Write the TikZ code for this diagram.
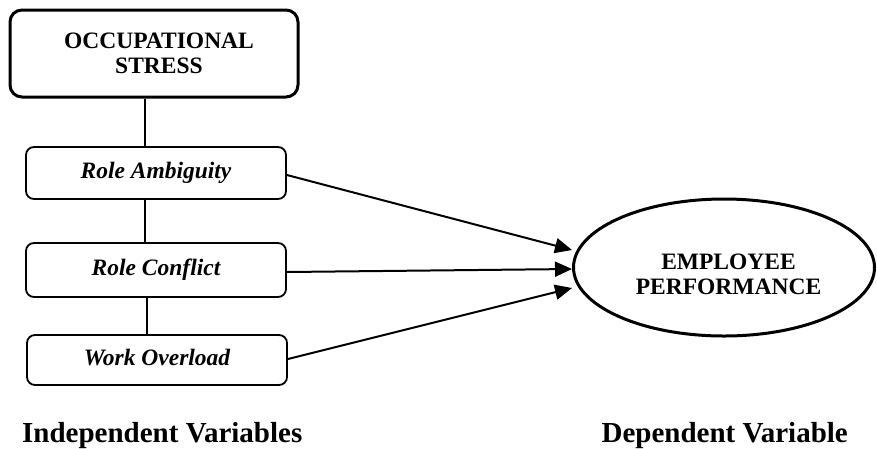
\documentclass[tikz,border=0pt]{standalone}
\usepackage{fontspec}
\setmainfont{Liberation Serif}
\usetikzlibrary{shapes.geometric,arrows.meta,calc}
\begin{document}
\begin{tikzpicture}[x=1pt,y=-1pt,
  boxtext/.style={font=\fontsize{23.5}{25}\selectfont\bfseries},
  mainbox/.style={draw,line width=3pt,rounded corners=12pt,inner sep=0pt},
  varbox/.style={draw,line width=1.8pt,rounded corners=8pt,inner sep=0pt,minimum width=260pt,boxtext,text height=1.3em,text depth=0.19em},
  link/.style={line width=1.4pt},
  arr/.style={line width=2pt,-{Triangle[length=17pt,width=15pt]}},
  label/.style={font=\fontsize{29}{34}\selectfont\bfseries,inner sep=0pt}]
\useasboundingbox (0,0) rectangle (877,448);
\node[mainbox,minimum width=288pt,minimum height=87pt] (os) at (154,53.5) {};
\node[boxtext,align=center,inner sep=0pt] (ost) at (159,53) {OCCUPATIONAL\\STRESS};
\node[varbox,minimum height=52pt] (ra) at (156,173) {\itshape Role Ambiguity};
\node[varbox,minimum height=54pt] (rc) at (156,270) {\itshape Role Conflict};
\node[varbox,minimum height=50pt] (wo) at (157,360) {\itshape Work Overload};
\node[ellipse,draw,line width=3pt,minimum width=301pt,minimum height=137pt,inner sep=0pt] (ep) at (724,267.5) {};
\node[boxtext,align=center,inner sep=0pt] (ept) at (728.5,274) {EMPLOYEE\\PERFORMANCE};
\coordinate (lx) at (145,0);
\coordinate (ly) at (147,0);
\draw[link] (os.south -| lx) -- (ra.north -| lx);
\draw[link] (ra.south -| lx) -- (rc.north -| lx);
\draw[link] (rc.south -| ly) -- (wo.north -| ly);
\draw[arr] ($(ra.east)+(0,2)$) -- ($(ep.west)+(0,-17.5)$);
\draw[arr] ($(rc.east)+(0,2)$) -- ($(ep.west)+(0,1.5)$);
\draw[arr] ($(wo.east)+(0,-1)$) -- ($(ep.west)+(0,20.5)$);
\node[label,anchor=base west] (iv) at (22,442) {Independent Variables};
\node[label,anchor=base east] (dv) at (848,442) {Dependent Variable};
\end{tikzpicture}
\end{document}
